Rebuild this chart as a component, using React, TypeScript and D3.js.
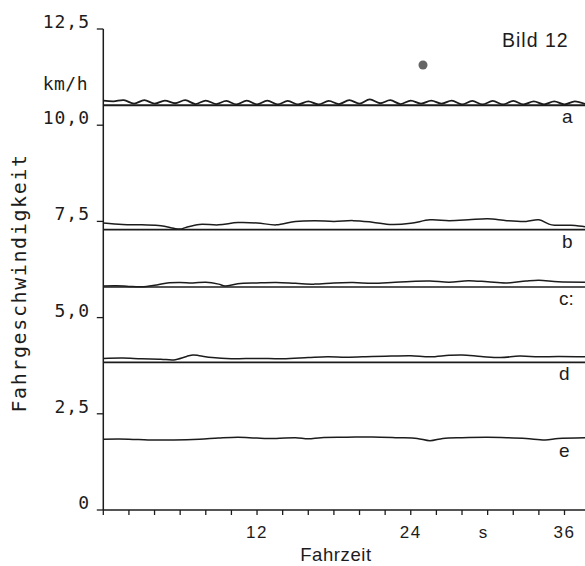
import React from "react";
import * as d3 from "d3";

// ---- data ----
const yTickValues = [0, 2.5, 5, 7.5, 10, 12.5];
const yTickLabels = ["0", "2,5", "5,0", "7,5", "10,0", "12,5"];
const xMinorTicks = [0, 2, 4, 6, 8, 10, 12, 14, 16, 18, 20, 22, 24, 26, 28, 30, 32, 34, 36];
const xTickLabels: [number, string][] = [[12, "12"], [24, "24"], [29.7, "s"], [36, "36"]];

const seriesNames = ["a", "b", "c:", "d", "e"];
const referenceLevels = [10.52, 7.285, 5.795, 3.838, null];

const seriesA: [number, number][] = [
  [0, 10.64], [0.8, 10.62], [1.6, 10.65], [2.4, 10.56], [3.2, 10.65], [4.0, 10.56],
  [4.8, 10.64], [5.6, 10.57], [6.4, 10.65], [7.2, 10.55], [8.0, 10.64], [8.8, 10.55],
  [9.6, 10.63], [10.4, 10.54], [11.2, 10.64], [12.0, 10.54], [12.8, 10.64], [13.6, 10.54],
  [14.4, 10.63], [15.2, 10.54], [16.0, 10.62], [16.8, 10.54], [17.6, 10.63], [18.4, 10.55],
  [19.2, 10.65], [20.0, 10.56], [20.8, 10.67], [21.6, 10.57], [22.4, 10.65], [23.2, 10.55],
  [24.0, 10.64], [24.8, 10.56], [25.6, 10.64], [26.4, 10.56], [27.2, 10.64], [28.0, 10.54],
  [28.8, 10.63], [29.6, 10.54], [30.4, 10.63], [31.2, 10.54], [32.0, 10.63], [32.8, 10.54],
  [33.6, 10.62], [34.4, 10.54], [35.2, 10.62], [36.0, 10.54], [36.8, 10.62], [37.6, 10.55],
];
const seriesB: [number, number][] = [
  [0, 7.46], [1.5, 7.42], [3, 7.41], [4.5, 7.39], [5.5, 7.32], [6, 7.3], [6.5, 7.35],
  [7.5, 7.42], [9, 7.41], [10.5, 7.47], [12, 7.46], [13.5, 7.41], [15, 7.5], [16.5, 7.52],
  [18, 7.5], [19.5, 7.52], [21, 7.48], [22.5, 7.42], [24, 7.45], [25.5, 7.54], [27, 7.52],
  [28.5, 7.54], [30, 7.57], [31.5, 7.52], [33, 7.5], [34, 7.54], [35, 7.41], [36.5, 7.4],
  [37.6, 7.36],
];
const seriesC: [number, number][] = [
  [0, 5.82], [1, 5.83], [2, 5.81], [3, 5.8], [4, 5.84], [5, 5.9], [6, 5.91], [7, 5.9],
  [8, 5.92], [9, 5.87], [9.5, 5.82], [10.5, 5.88], [12, 5.9], [13.5, 5.91], [15, 5.89],
  [16.5, 5.87], [18, 5.9], [19.5, 5.91], [21, 5.89], [22.5, 5.91], [24, 5.94], [25.5, 5.95],
  [27, 5.92], [28.5, 5.96], [30, 5.93], [31.5, 5.9], [33, 5.95], [34, 5.97], [35.5, 5.93],
  [37.6, 5.92],
];
const seriesD: [number, number][] = [
  [0, 3.94], [1.5, 3.95], [3, 3.93], [4.5, 3.92], [5.5, 3.9], [6.5, 3.99], [7, 4.03],
  [7.5, 4.01], [8.5, 3.96], [10, 3.93], [12, 3.94], [14, 3.93], [16, 3.96], [17.5, 3.98],
  [19, 3.97], [21, 3.99], [22.5, 4.0], [24, 4.01], [25.5, 3.98], [27, 4.02], [28, 4.03],
  [29.5, 3.99], [31, 3.96], [32.5, 4.0], [34, 3.98], [35.5, 3.99], [37.6, 3.98],
];
const seriesE: [number, number][] = [
  [0, 1.84], [2, 1.84], [3.5, 1.82], [5.5, 1.82], [7.5, 1.84], [9, 1.87], [10.5, 1.89],
  [12, 1.87], [13.5, 1.86], [15, 1.88], [16, 1.85], [17, 1.88], [19, 1.89], [21, 1.9],
  [23, 1.88], [24.5, 1.86], [25.5, 1.8], [26.5, 1.86], [28, 1.88], [30, 1.89], [31.5, 1.88],
  [33, 1.86], [34.5, 1.82], [35.5, 1.86], [37.6, 1.88],
];
const allSeries = [seriesA, seriesB, seriesC, seriesD, seriesE];
const labelLevels = [10.52, 7.285, 5.795, 3.838, 1.84];

const W = 585;
const H = 566;
const MONO = "'DejaVu Sans Mono', monospace";
const SANS = "'Liberation Sans', Arial, sans-serif";
const INK = "#1c1c1c";

export default function App() {
  const x = d3.scaleLinear().domain([0, 37.6]).range([103.3, 585]);
  const y = d3.scaleLinear().domain([0, 12.5]).range([510, 29]);
  const line = d3
    .line<[number, number]>()
    .x((d) => x(d[0]))
    .y((d) => y(d[1]))
    .curve(d3.curveCatmullRom.alpha(0.5));

  const x0 = x(0);
  const xEnd = x.range()[1];
  const yBase = y(0);

  return (
    <svg
      width={W}
      height={H}
      viewBox={`0 0 ${W} ${H}`}
      style={{ position: "absolute", left: 0, top: 0, background: "#fff" }}
    >
      <rect x={0} y={0} width={W} height={H} fill="#fff" />

      {/* axes */}
      <line x1={x0} y1={y(12.5)} x2={x0} y2={yBase} stroke={INK} strokeWidth={1.5} />
      <line x1={x0} y1={yBase} x2={xEnd} y2={yBase} stroke={INK} strokeWidth={1.5} />

      {yTickValues.map((v, i) => (
        <g key={"yt" + i}>
          <line x1={x0 - 6.5} x2={x0} y1={y(v)} y2={y(v)} stroke={INK} strokeWidth={1.3} />
          <text
            x={90}
            y={y(v) - 1}
            textAnchor="end"
            fontFamily={MONO}
            fontSize={18}
            letterSpacing={1}
            fill={INK}
          >
            {yTickLabels[i]}
          </text>
        </g>
      ))}
      <text x={88} y={90} textAnchor="end" fontFamily={MONO} fontSize={18} letterSpacing={0.5} fill={INK}>
        km/h
      </text>

      {xMinorTicks.map((t) => (
        <line key={"xt" + t} x1={x(t)} x2={x(t)} y1={yBase} y2={yBase + 5} stroke={INK} strokeWidth={1.3} />
      ))}
      {xTickLabels.map(([t, s]) => (
        <text
          key={"xl" + s}
          x={x(t)}
          y={538}
          textAnchor="middle"
          fontFamily={SANS}
          fontSize={17}
          letterSpacing={1.5}
          fill={INK}
        >
          {s}
        </text>
      ))}
      <text x={336} y={561} textAnchor="middle" fontFamily={SANS} fontSize={18.5} letterSpacing={0.6} fill={INK}>
        Fahrzeit
      </text>
      <text
        transform={`translate(26, 283) rotate(-90)`}
        textAnchor="middle"
        fontFamily={MONO}
        fontSize={20}
        letterSpacing={1.6}
        fill={INK}
      >
        Fahrgeschwindigkeit
      </text>

      <text x={502} y={47} fontFamily={SANS} fontSize={19.5} letterSpacing={1} fill={INK}>
        Bild 12
      </text>

      {/* reference (flat) lines */}
      {referenceLevels.map((v, i) =>
        v === null ? null : (
          <line
            key={"ref" + i}
            x1={x0}
            x2={xEnd}
            y1={y(v)}
            y2={y(v)}
            stroke={INK}
            strokeWidth={i === 0 ? 2 : 1.7}
          />
        )
      )}

      {/* measured speed traces */}
      {allSeries.map((s, i) => (
        <path key={"s" + i} d={line(s) || ""} fill="none" stroke={INK} strokeWidth={i === 0 ? 1.8 : 1.5} />
      ))}

      {/* curve labels */}
      {seriesNames.map((n, i) => (
        <text
          key={"lab" + i}
          x={i < 2 ? 562 : 559}
          y={y(labelLevels[i]) + 18}
          fontFamily={SANS}
          fontSize={19}
          fill={INK}
        >
          {n}
        </text>
      ))}

      {/* ink blot present on the scanned original */}
      <circle cx={423} cy={65} r={4.5} fill="#4a4a4a" opacity={0.85} />
    </svg>
  );
}
